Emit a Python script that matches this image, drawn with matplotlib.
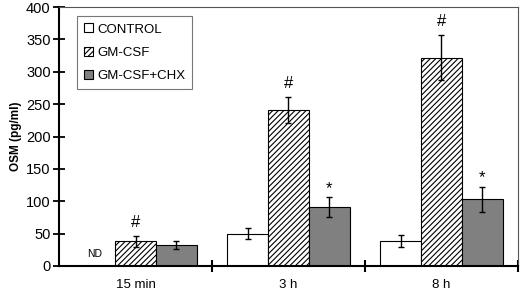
import matplotlib
matplotlib.use("Agg")
import matplotlib.pyplot as plt
import numpy as np

plt.rcParams['font.family'] = ['Liberation Sans', 'DejaVu Sans']
plt.rcParams['hatch.linewidth'] = 0.8

categories = ["15 min", "3 h", "8 h"]
series = ["CONTROL", "GM-CSF", "GM-CSF+CHX"]
control = [0, 50, 39]
control_err = [0, 8.5, 9.5]
gmcsf = [38, 241, 322]
gmcsf_err = [9, 20, 35]
chx = [32, 91, 103]
chx_err = [6.5, 15, 19]
gmcsf_marks = ["#", "#", "#"]
chx_marks = ["", "*", "*"]
y_ticks = [0, 50, 100, 150, 200, 250, 300, 350, 400]

fig = plt.figure(figsize=(5.2, 2.93), dpi=100)
ax = fig.add_axes([0.1135, 0.0922, 0.8825, 0.8838])

x = np.arange(len(categories))
w = 0.8 / 3
ekw = dict(ecolor='black', elinewidth=1.0, capsize=2.5, capthick=1.0)

ctrl_vals = [v if v > 0 else np.nan for v in control]
ax.bar(x - w, ctrl_vals, w, color='white', edgecolor='black', linewidth=0.8,
       label=series[0], zorder=2)
ax.errorbar(x[1:] - w, control[1:], yerr=control_err[1:], fmt='none', zorder=3, **ekw)
ax.bar(x, gmcsf, w, color='white', edgecolor='black', hatch='//////', linewidth=0.8,
       label=series[1], zorder=2)
ax.errorbar(x, gmcsf, yerr=gmcsf_err, fmt='none', zorder=3, **ekw)
ax.bar(x + w, chx, w, color='#808080', edgecolor='black', linewidth=0.8,
       label=series[2], zorder=2)
ax.errorbar(x + w, chx, yerr=chx_err, fmt='none', zorder=3, **ekw)

for i in range(len(categories)):
    if gmcsf_marks[i]:
        ax.annotate(gmcsf_marks[i], (x[i], gmcsf[i] + gmcsf_err[i]), xytext=(0, 4),
                    textcoords='offset points', ha='center', va='bottom', fontsize=12)
    if chx_marks[i]:
        ax.annotate(chx_marks[i], (x[i] + w, chx[i] + chx_err[i]), xytext=(0, 1),
                    textcoords='offset points', ha='center', va='bottom', fontsize=12)

ax.text(x[0] - w, 19, "ND", ha='center', va='center', fontsize=7.5)

ax.set_xlim(-0.5, 2.5)
ax.set_ylim(0, 400)
ax.set_yticks(y_ticks)
ax.tick_params(axis='y', direction='inout', length=8, width=1.3, labelsize=10.5, pad=2)
ax.set_xticks(x)
ax.set_xticklabels(categories)
ax.tick_params(axis='x', which='major', length=0, labelsize=9.5, pad=9.5)
ax.set_xticks([0.5, 1.5, 2.5], minor=True)
ax.tick_params(axis='x', which='minor', direction='inout', length=8, width=1.5)
ax.set_ylabel("OSM (pg/ml)", fontsize=8.5, fontweight='bold', labelpad=3)

for s in ['left', 'bottom']:
    ax.spines[s].set_linewidth(1.5)
for s in ['top', 'right']:
    ax.spines[s].set_linewidth(0.8)
    ax.spines[s].set_color('#555555')

leg = ax.legend(loc='upper left', bbox_to_anchor=(0.025, 0.99), fontsize=9.5,
                frameon=True, fancybox=False, edgecolor='#555555',
                handlelength=0.65, handleheight=0.65, handletextpad=0.3,
                labelspacing=0.85, borderpad=0.55)
leg.get_frame().set_linewidth(0.8)

fig.savefig("out.png", dpi=100)
